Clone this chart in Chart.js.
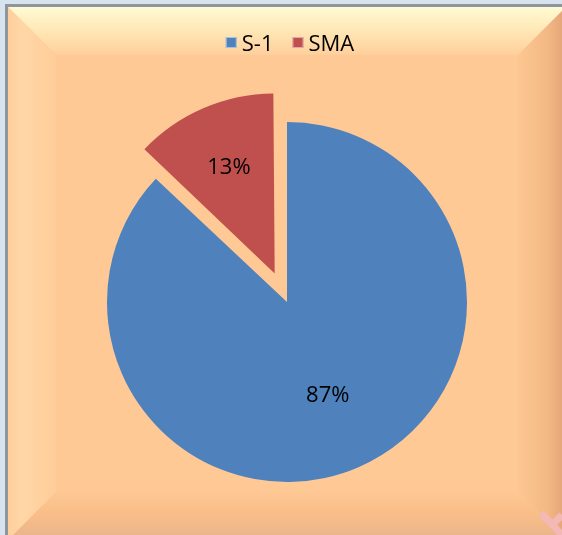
<!DOCTYPE html>
<html>
<head>
<meta charset="utf-8">
<script src="https://cdn.jsdelivr.net/npm/chart.js@4.4.1/dist/chart.umd.min.js"></script>
<style>
  html, body { margin: 0; padding: 0; background: #d8e3f0; }
  #wrap { width: 562px; height: 535px; position: relative; }
</style>
</head>
<body>
<div id="wrap"><canvas id="pieChart" width="562" height="535"></canvas></div>
<script>
// data
const labels = ["S-1", "SMA"];
const values = [87, 13];
const colors = ["#4f81bd", "#c0504d"];

const FONT = "'Open Sans', 'Noto Sans', sans-serif";

// bevelled peach frame behind the chart
const bevelBg = {
  id: "bevelBg",
  beforeDraw(chart) {
    const c = chart.ctx;
    const W = chart.width, H = chart.height;
    c.save();
    c.fillStyle = "#d8e3f0";
    c.fillRect(0, 0, W, H);
    // grey outline
    c.fillStyle = "#8f959c";
    c.fillRect(5, 4, W - 5, H - 4);

    const x0 = 8, y0 = 7, x1 = 566, y1 = 540, b = 48;
    c.fillStyle = "#fec995";
    c.fillRect(x0, y0, x1 - x0, y1 - y0);

    function band(pts, g) {
      c.beginPath();
      c.moveTo(pts[0][0], pts[0][1]);
      for (let i = 1; i < pts.length; i++) c.lineTo(pts[i][0], pts[i][1]);
      c.closePath();
      c.fillStyle = g;
      c.fill();
    }
    let g = c.createLinearGradient(0, y0, 0, y0 + b);
    g.addColorStop(0, "#fffbd4");
    g.addColorStop(0.5, "#ffe7b5");
    g.addColorStop(1, "#fecf9c");
    band([[x0, y0], [x1, y0], [x1 - b, y0 + b], [x0 + b, y0 + b]], g);

    g = c.createLinearGradient(x0, 0, x0 + b, 0);
    g.addColorStop(0, "#fecf9c");
    g.addColorStop(0.3, "#ffd7a6");
    g.addColorStop(1, "#fecd99");
    band([[x0, y0], [x0 + b, y0 + b], [x0 + b, y1 - b], [x0, y1]], g);

    g = c.createLinearGradient(x1 - b, 0, x1, 0);
    g.addColorStop(0, "#fdc792");
    g.addColorStop(0.6, "#f3b985");
    g.addColorStop(1, "#e2a274");
    band([[x1, y0], [x1, y1], [x1 - b, y1 - b], [x1 - b, y0 + b]], g);

    g = c.createLinearGradient(0, y1 - b, 0, y1);
    g.addColorStop(0, "#fec793");
    g.addColorStop(0.5, "#f8bd89");
    g.addColorStop(1, "#e9b48a");
    band([[x0, y1], [x0 + b, y1 - b], [x1 - b, y1 - b], [x1, y1]], g);

    // pink mark in the bottom right corner
    c.strokeStyle = "#f4b8b6";
    c.lineWidth = 7;
    c.beginPath();
    c.moveTo(541, 513);
    c.lineTo(562, 535);
    c.moveTo(562, 515);
    c.lineTo(553, 524);
    c.stroke();
    c.restore();
  }
};

// chart.js grows an exploded slice a bit; keep it the same radius as the rest
const keepRadius = {
  id: "keepRadius",
  beforeDatasetsDraw(chart) {
    const meta = chart.getDatasetMeta(0);
    const base = meta.controller.outerRadius;
    meta.data.forEach(arc => {
      const off = (arc.options.offset || 0) / 4;
      const circ = arc.endAngle - arc.startAngle;
      const fix = 1 - Math.sin(Math.min(Math.PI, circ));
      arc.outerRadius = base - off * fix;
    });
  }
};

// legend and percentage labels
const pieText = {
  id: "pieText",
  afterDatasetsDraw(chart) {
    const c = chart.ctx;
    const ds = chart.data.datasets[0];
    const meta = chart.getDatasetMeta(0);
    const total = ds.data.reduce((a, v) => a + v, 0);
    const base = meta.controller.outerRadius;
    const labelPos = [0.57, 0.64];
    c.save();
    c.font = "22px " + FONT;
    c.fillStyle = "#000";
    c.textAlign = "center";
    c.textBaseline = "middle";
    meta.data.forEach((arc, i) => {
      const mid = (arc.startAngle + arc.endAngle) / 2;
      // the slice is moved by a quarter of its offset
      const off = (ds.offset[i] || 0) / 4;
      const r = base * labelPos[i] + off;
      const pct = Math.round(ds.data[i] / total * 100) + "%";
      c.fillText(pct, arc.x + Math.cos(mid) * r, arc.y + Math.sin(mid) * r);
    });

    // legend at top
    c.textAlign = "left";
    c.textBaseline = "alphabetic";
    const box = 11, gap = 5, spacing = 19, ly = 51;
    const widths = chart.data.labels.map(t => c.measureText(t).width);
    let full = 0;
    widths.forEach((w, i) => { full += box + gap + w + (i ? spacing : 0); });
    let lx = 290 - full / 2;
    chart.data.labels.forEach((t, i) => {
      c.fillStyle = ds.backgroundColor[i];
      c.fillRect(lx, 37, box, box);
      c.strokeStyle = "rgba(255,255,255,0.5)";
      c.lineWidth = 1;
      c.strokeRect(lx + 0.5, 37.5, box - 1, box - 1);
      c.fillStyle = "#000";
      c.fillText(t, lx + box + gap, ly);
      lx += box + gap + widths[i] + spacing;
    });
    c.restore();
  }
};

new Chart(document.getElementById("pieChart"), {
  type: "pie",
  data: {
    labels: labels,
    datasets: [{
      data: values,
      backgroundColor: colors,
      borderWidth: 0,
      offset: [0, 124],
      hoverOffset: 0
    }]
  },
  options: {
    responsive: false,
    animation: false,
    radius: 180,
    layout: { padding: { left: 12, right: 0, top: 69, bottom: 0 } },
    plugins: {
      legend: { display: false },
      tooltip: { enabled: false }
    }
  },
  plugins: [bevelBg, keepRadius, pieText]
});
</script>
</body>
</html>
